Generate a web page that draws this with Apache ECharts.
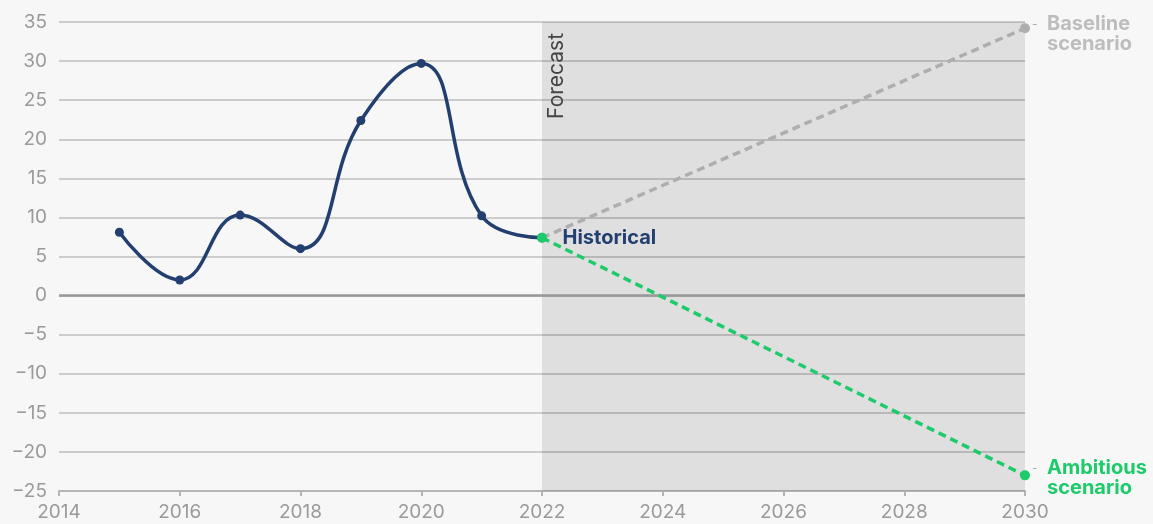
<!DOCTYPE html>
<html>
<head>
<meta charset="utf-8">
<script src="https://cdn.jsdelivr.net/npm/echarts@6/dist/echarts.min.js"></script>
<style>
  html, body { margin: 0; padding: 0; background: #f7f7f7; }
  #chart { width: 1153px; height: 524px; }
</style>
</head>
<body>
<div id="chart"></div>
<script>
// Historical values
const histYears = [2015, 2016, 2017, 2018, 2019, 2020, 2021, 2022];
const histValues = [8.1, 2.0, 10.3, 6.0, 22.4, 29.7, 10.2, 7.4];

// Scenario projections from the last historical year
const scenarioYears = [2022, 2030];
const baselineValues = [7.4, 34.2];
const ambitiousValues = [7.4, -23.0];

// Forecast window
const forecastRange = [2022, 2030];

const NAVY = '#233f70';
const GREEN = '#1ecb6b';
const GREY = '#aeaeae';
const FONT = 'Inter, "Noto Sans", sans-serif';

const zip = (xs, ys) => xs.map((x, i) => [x, ys[i]]);

// Two-line end label with a short connector dash before the first line
const endLabel = (title, color, offsetY) => ({
  show: true,
  position: 'right',
  distance: 2,
  offset: [0, offsetY],
  fontFamily: FONT,
  formatter: p => p.dataIndex === scenarioYears.length - 1
    ? '{d|-}{t|' + title + '}\n{e| }{t|scenario}' : '',
  rich: {
    d: { color: GREY, fontSize: 12, width: 15, align: 'left', fontFamily: FONT },
    e: { fontSize: 12, width: 15, fontFamily: FONT },
    t: { color: color, fontSize: 20, fontWeight: 'bold', lineHeight: 20, fontFamily: FONT }
  }
});

const chart = echarts.init(document.getElementById('chart'));

chart.setOption({
  backgroundColor: '#f7f7f7',
  animation: false,
  textStyle: { fontFamily: FONT },
  grid: { left: 59, right: 128, top: 22, bottom: 33 },
  xAxis: {
    type: 'value',
    min: 2014, max: 2030, interval: 2,
    axisLine: { show: true, onZero: false, lineStyle: { color: '#b5b5b5', width: 2 } },
    axisTick: { show: true, length: 5, lineStyle: { color: '#b5b5b5', width: 2 } },
    axisLabel: { color: '#9a9a9a', fontSize: 19, margin: 12, fontFamily: FONT,
      formatter: v => String(v) },
    splitLine: { show: false }
  },
  yAxis: {
    type: 'value',
    min: -25, max: 35, interval: 5,
    axisLine: { show: false },
    axisTick: { show: false },
    axisLabel: { color: '#9a9a9a', fontSize: 19, margin: 12, fontFamily: FONT,
      formatter: v => String(v).replace('-', '\u2212') },
    splitLine: { lineStyle: { color: '#cccccc', width: 2 } }
  },
  series: [
    {
      name: 'Baseline',
      type: 'line',
      data: zip(scenarioYears, baselineValues),
      lineStyle: { color: GREY, width: 3.5, type: [8, 5] },
      itemStyle: { color: GREY },
      symbol: 'circle',
      symbolSize: 10,
      z: 3,
      label: endLabel('Baseline', '#bdbdbd', 6),
      markArea: {
        silent: true,
        itemStyle: { color: 'rgba(0,0,0,0.095)' },
        label: {
          show: true,
          position: 'insideTopLeft',
          rotate: 90,
          align: 'right',
          verticalAlign: 'top',
          distance: 0,
          offset: [-11, 4],
          color: '#444444',
          fontSize: 21,
          fontFamily: FONT
        },
        data: [[{ xAxis: forecastRange[0], name: 'Forecast' }, { xAxis: forecastRange[1] }]]
      },
      markLine: {
        silent: true,
        symbol: 'none',
        label: { show: false },
        lineStyle: { color: '#999999', width: 2.5, type: 'solid' },
        data: [{ yAxis: 0 }]
      }
    },
    {
      name: 'Ambitious',
      type: 'line',
      data: zip(scenarioYears, ambitiousValues),
      lineStyle: { color: GREEN, width: 3.5, type: [8, 5] },
      itemStyle: { color: GREEN },
      symbol: 'circle',
      symbolSize: 10,
      z: 5,
      label: endLabel('Ambitious', GREEN, 3)
    },
    {
      name: 'Historical',
      type: 'line',
      data: zip(histYears, histValues),
      smooth: 0.45,
      lineStyle: { color: NAVY, width: 3.5 },
      itemStyle: { color: NAVY },
      symbol: 'circle',
      symbolSize: 9,
      z: 4,
      label: {
        show: true,
        position: 'right',
        distance: 16,
        color: NAVY,
        fontSize: 20,
        fontWeight: 'bold',
        fontFamily: FONT,
        formatter: p => p.dataIndex === histYears.length - 1 ? 'Historical' : ''
      }
    }
  ]
});
</script>
</body>
</html>
